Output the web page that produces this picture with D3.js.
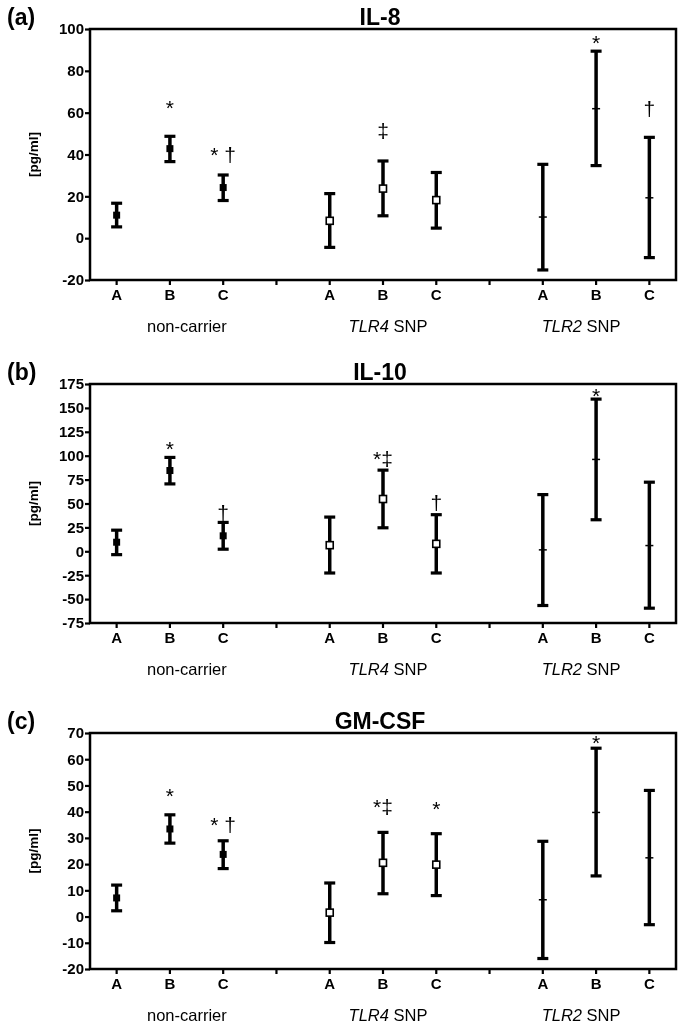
<!DOCTYPE html>
<html><head><meta charset="utf-8">
<script src="https://cdn.jsdelivr.net/npm/d3@7"></script>
<style>
html,body{margin:0;padding:0;background:#fff;}
svg{filter:grayscale(100%);}
text{font-family:"Liberation Sans",Arial,sans-serif;fill:#000;}
</style></head>
<body>
<svg id="chart" width="685" height="1035"></svg>
<script>
// ---- data ----
const slots = ["nc-A","nc-B","nc-C","sep1","t4-A","t4-B","t4-C","sep2","t2-A","t2-B","t2-C"];
const tickLabels = ["A","B","C","","A","B","C","","A","B","C"];
const groupNames = ["non-carrier","TLR4","TLR2"];
const groupSuffix = [""," SNP"," SNP"];
const groupMarkers = ["filled","open","dash"];
const dataSlots = ["nc-A","nc-B","nc-C","t4-A","t4-B","t4-C","t2-A","t2-B","t2-C"];

const il8Mean  = [11.0, 42.8, 24.2, 8.3, 23.7, 18.2, 10.1, 61.9, 19.3];
const il8Upper = [16.7, 48.7, 30.2, 21.3, 36.9, 31.4, 35.3, 89.4, 48.2];
const il8Lower = [5.4, 36.6, 18.0, -4.4, 10.7, 4.8, -15.2, 34.7, -9.3];
const il8Ticks = [-20, 0, 20, 40, 60, 80, 100];
const il8Notes = [["nc-B","*",64],["nc-C","* \u2020",41.5],["t4-B","\u2021",53],["t2-B","*",95],["t2-C","\u2020",63.5]];

const il10Mean  = [9.5, 84.5, 16.2, 6.4, 54.7, 7.8, 1.5, 96.1, 6.0];
const il10Upper = [22.1, 98.2, 30.2, 35.8, 84.9, 38.3, 59.3, 159.2, 72.3];
const il10Lower = [-3.5, 70.5, 2.2, -22.7, 24.6, -22.7, -56.7, 33.0, -59.5];
const il10Ticks = [-75, -50, -25, 0, 25, 50, 75, 100, 125, 150, 175];
const il10Notes = [["nc-B","*",111],["nc-C","\u2020",43.5],["t4-B","*\u2021",100.5],["t4-C","\u2020",54],["t2-B","*",166]];

const gmMean  = [7.1, 33.4, 23.7, 1.5, 20.5, 19.8, 6.4, 39.7, 22.4];
const gmUpper = [12.0, 38.8, 28.9, 12.8, 32.1, 31.6, 28.7, 64.2, 48.1];
const gmLower = [2.2, 28.0, 18.3, -9.9, 8.7, 8.0, -16.0, 15.5, -3.1];
const gmTicks = [-20, -10, 0, 10, 20, 30, 40, 50, 60, 70];
const gmNotes = [["nc-B","*",47.2],["nc-C","* \u2020",36.3],["t4-B","*\u2021",43.1],["t4-C","*",42.5],["t2-B","*",67.4]];

const panels = [
  {letter:"(a)", title:"IL-8",   mean:il8Mean,  upper:il8Upper,  lower:il8Lower,  ticks:il8Ticks,  notes:il8Notes,  top:29,  bottom:280},
  {letter:"(b)", title:"IL-10",  mean:il10Mean, upper:il10Upper, lower:il10Lower, ticks:il10Ticks, notes:il10Notes, top:384, bottom:623},
  {letter:"(c)", title:"GM-CSF", mean:gmMean,   upper:gmUpper,   lower:gmLower,   ticks:gmTicks,   notes:gmNotes,   top:733, bottom:969}
];

// ---- drawing ----
const FONT = "'Liberation Sans', Arial, sans-serif";
const svg = d3.select("#chart");
const left = 90, right = 676;
const x = d3.scaleBand().domain(slots).range([left, right]).paddingInner(0).paddingOuter(0);
const cx = s => x(s) + x.bandwidth() / 2;
const groupLabelOffset = [17, 5, -15];

panels.forEach(p => {
  const g = svg.append("g");
  const y = d3.scaleLinear().domain(d3.extent(p.ticks)).range([p.bottom, p.top]);

  // frame
  g.append("rect").attr("x", left).attr("y", p.top).attr("width", right - left).attr("height", p.bottom - p.top)
    .attr("fill", "none").attr("stroke", "#000").attr("stroke-width", 2.5);

  // y axis
  const ya = g.append("g").attr("transform", `translate(${left},0)`)
    .call(d3.axisLeft(y).tickValues(p.ticks).tickSize(5).tickPadding(1).tickFormat(d => String(d)));
  ya.select(".domain").remove();
  ya.selectAll(".tick line").attr("stroke", "#000").attr("stroke-width", 2.2);
  ya.selectAll(".tick text").style("font-size", "15px").style("font-weight", "bold")
    .style("font-family", FONT).attr("fill", "#000");

  // x axis
  const xa = g.append("g").attr("transform", `translate(0,${p.bottom})`)
    .call(d3.axisBottom(x).tickSize(5).tickPadding(4).tickFormat((d, i) => tickLabels[i]));
  xa.select(".domain").remove();
  xa.selectAll(".tick line").attr("stroke", "#000").attr("stroke-width", 2.2);
  xa.selectAll(".tick text").style("font-size", "15px").style("font-weight", "bold")
    .style("font-family", FONT).attr("fill", "#000");

  // group labels
  groupNames.forEach((gn, gi) => {
    const mid = cx(dataSlots[gi * 3 + 1]) + groupLabelOffset[gi];
    const t = g.append("text").attr("x", mid).attr("y", p.bottom + 52)
      .attr("text-anchor", "middle").attr("fill", "#000").style("font-size", "16.5px");
    if (gi === 0) t.text(gn);
    else {
      t.append("tspan").style("font-style", "italic").text(gn);
      t.append("tspan").text(groupSuffix[gi]);
    }
  });

  // y label
  const ymid = (p.top + p.bottom) / 2;
  g.append("text").attr("transform", `translate(38,${ymid}) rotate(-90)`)
    .attr("text-anchor", "middle").attr("fill", "#000")
    .style("font-size", "13.5px").style("font-weight", "bold").text("[pg/ml]");

  // title and panel letter
  g.append("text").attr("x", 380).attr("y", p.top - 4).attr("text-anchor", "middle").attr("fill", "#000")
    .style("font-size", "23px").style("font-weight", "bold").text(p.title);
  g.append("text").attr("x", 7).attr("y", p.top - 4).attr("fill", "#000")
    .style("font-size", "23px").style("font-weight", "bold").text(p.letter);

  // error bars
  const capW = 11;
  dataSlots.forEach((s, i) => {
    const xc = cx(s);
    g.append("line").attr("x1", xc).attr("x2", xc).attr("y1", y(p.lower[i])).attr("y2", y(p.upper[i]))
      .attr("stroke", "#000").attr("stroke-width", 3.5);
    [p.lower[i], p.upper[i]].forEach(v => {
      g.append("line").attr("x1", xc - capW / 2).attr("x2", xc + capW / 2).attr("y1", y(v)).attr("y2", y(v))
        .attr("stroke", "#000").attr("stroke-width", 3.2);
    });
    const m = groupMarkers[Math.floor(i / 3)];
    const ym = y(p.mean[i]);
    if (m === "filled") {
      g.append("rect").attr("x", xc - 3.5).attr("y", ym - 3.5).attr("width", 7).attr("height", 7).attr("fill", "#000");
    } else if (m === "open") {
      g.append("rect").attr("x", xc - 3.5).attr("y", ym - 3.5).attr("width", 7).attr("height", 7)
        .attr("fill", "#fff").attr("stroke", "#000").attr("stroke-width", 1.6);
    } else {
      g.append("line").attr("x1", xc - 4).attr("x2", xc + 4).attr("y1", ym).attr("y2", ym)
        .attr("stroke", "#000").attr("stroke-width", 1.5);
    }
  });

  // significance notes
  p.notes.forEach(([s, txt, v]) => {
    g.append("text").attr("x", cx(s)).attr("y", y(v)).attr("dy", "0.5em").attr("text-anchor", "middle")
      .attr("fill", "#000").style("font-size", "21px").text(txt);
  });
});
</script>
</body></html>
